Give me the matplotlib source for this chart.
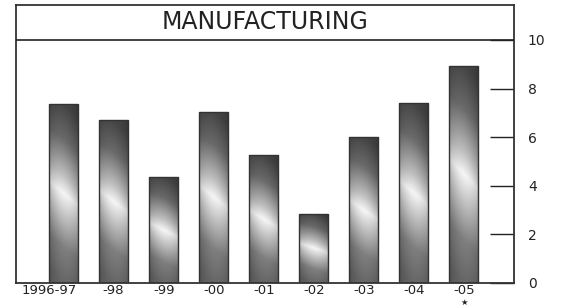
import numpy as np
import matplotlib.pyplot as plt
import matplotlib.transforms as mtransforms

# data
labels = ['1996-97', '-98', '-99', '-00', '-01', '-02', '-03', '-04', '-05']
values = [7.35, 6.7, 4.35, 7.05, 5.25, 2.85, 6.0, 7.4, 8.95]
yticks = [0, 2, 4, 6, 8, 10]
title = 'MANUFACTURING'

fig = plt.figure(figsize=(5.61, 3.08), dpi=100)
ax = fig.add_axes([16 / 561, 25 / 308, 498 / 561, 278 / 308])

x = np.arange(len(values))
width = 0.58
bars = ax.bar(x, values, width=width, facecolor='none', edgecolor='#333333',
              linewidth=1.0, zorder=3)

# shaded look of the bars: dark top, light band in the middle, grey bottom
t = np.linspace(0, 1, 200)[:, None]
s = np.linspace(-1, 1, 40)[None, :]
tt = t + 0.07 * s
shade = np.interp(tt, [0, 0.2, 0.4, 0.5, 0.6, 0.8, 1.0],
                  [0.4, 0.5, 0.8, 0.96, 0.75, 0.42, 0.27])
shade = shade * (1 - 0.2 * s ** 2)
shade = shade[::-1]

for xi, v, b in zip(x, values, bars):
    im = ax.imshow(shade, cmap='gray', vmin=0, vmax=1, aspect='auto',
                   extent=(xi - width / 2, xi + width / 2, 0, v),
                   interpolation='bilinear', zorder=2)
    im.set_clip_path(b)

ax.set_xlim(-0.95, 9.0)
ax.set_ylim(0, 11.44)
ax.axhline(10, color='#222222', linewidth=1.2, zorder=4)
ax.text(0.5, 10.72, title, ha='center', va='center', fontsize=17,
        color='#222222', zorder=5,
        transform=mtransforms.blended_transform_factory(ax.transAxes, ax.transData))

for sp in ax.spines.values():
    sp.set_color('#333333')
    sp.set_linewidth(1.3)

ax.yaxis.tick_right()
ax.set_yticks(yticks)
ax.set_yticklabels([str(v) for v in yticks])
ax.tick_params(axis='y', direction='in', length=17, width=1.0, pad=10,
               labelsize=10, colors='#222222')
ax.set_xticks(x)
ax.set_xticklabels(labels)
ax.tick_params(axis='x', length=0, pad=1, labelsize=9.5, labelcolor='#222222')

# first label sits a bit left of its bar
first = ax.get_xticklabels()[0]
first.set_transform(first.get_transform() +
                    mtransforms.ScaledTranslation(-14 / 100, 0, fig.dpi_scale_trans))

ax.annotate('★', xy=(x[-1], 0), xycoords='data', xytext=(0, -17.5),
            textcoords='offset points', ha='center', va='bottom', fontsize=6,
            color='#222222', annotation_clip=False)

fig.savefig('out.png', dpi=100)
